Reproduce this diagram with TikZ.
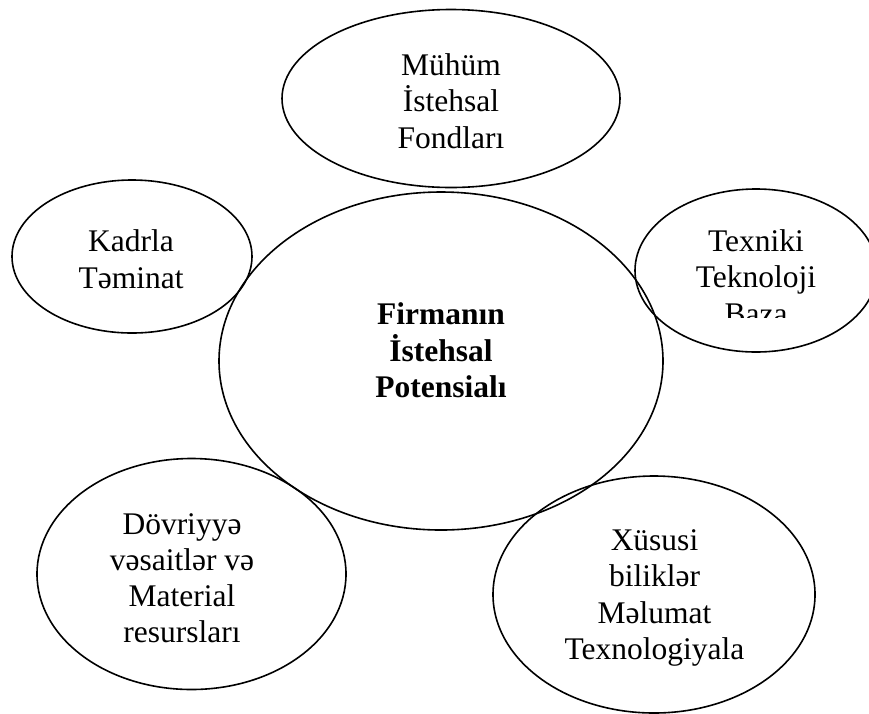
\documentclass[tikz,border=0pt]{standalone}
\usepackage{fontspec}
\setmainfont{Liberation Serif}
\usetikzlibrary{shapes.geometric}
\begin{document}
\begin{tikzpicture}
[x=1pt,y=-1pt,
oval/.style={draw,ellipse,line width=1.6pt,inner sep=0pt},
itemtext/.style={align=center,inner sep=0pt,font=\fontsize{31.5}{36.3}\selectfont}]
\useasboundingbox (0,0) rectangle (869,713);
% ellipses
\node[oval,minimum width=444,minimum height=338] (potensial) at (441,361) {};
\node[oval,minimum width=338,minimum height=178] (fondlar) at (451,98.5) {};
\node[oval,minimum width=240,minimum height=153] (kadr) at (132,256.5) {};
\node[oval,minimum width=242,minimum height=163] (baza) at (756,270.5) {};
\node[oval,minimum width=309,minimum height=231] (dovriyye) at (191.5,574) {};
\node[oval,minimum width=322,minimum height=237] (bilik) at (654,594.5) {};
% texts
\node[itemtext,font=\fontsize{31.5}{36.3}\selectfont\bfseries] (potensial-t) at (441,350.5) {Firmanın\\İstehsal\\Potensialı};
\node[itemtext] (fondlar-t) at (451,101.2) {Mühüm\\İstehsal\\Fondları};
\node[itemtext] (kadr-t) at (131,259.2) {Kadrla\\Təminat};
\begin{scope}
\clip (600,150) rectangle (869,317);
\node[itemtext] (baza-t) at (756,277.2) {Texniki\\Teknoloji\\Baza};
\end{scope}
\node[itemtext] (dovriyye-t) at (182,578.2) {Dövriyyə\\vəsaitlər və\\Material\\resursları};
\node[itemtext] (bilik-t) at (654.5,598.1) {Xüsusi\\biliklər\\Məlumat\\Texnologiyala};
\end{tikzpicture}
\end{document}
